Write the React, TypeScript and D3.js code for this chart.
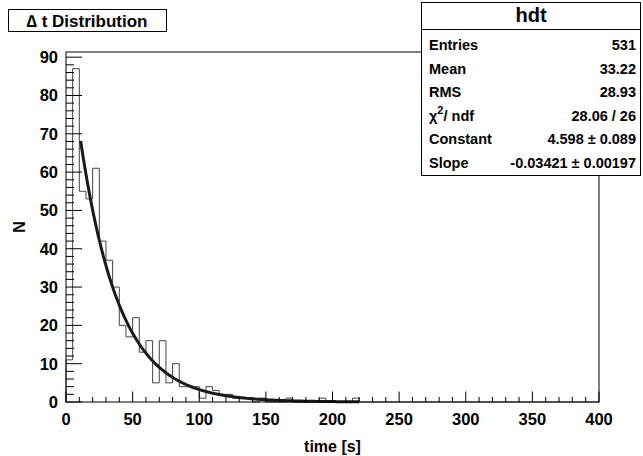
import React, { useEffect, useRef } from "react";
import * as d3 from "d3";

// bin contents, 5 s wide bins starting at 0
const binWidth = 5;
const counts = [
  11, 87, 55, 53, 61, 42, 37, 30, 20, 17, 22, 13, 16, 5, 16, 5, 10, 4, 4, 4,
  1, 4, 3, 2, 2, 1, 1, 1, 0, 1, 0, 0, 0, 1, 0, 0, 0, 0, 1, 0,
  0, 0, 0, 1,
];
const xTicks = [0, 50, 100, 150, 200, 250, 300, 350, 400];
const yTicks = [0, 10, 20, 30, 40, 50, 60, 70, 80, 90];

// fit parameters (expo): exp(constant + slope*x)
const fitConstant = 4.598;
const fitSlope = -0.03421;
const fitRange = [11, 220];

const statLabels = ["Entries", "Mean", "RMS", "chi", "Constant", "Slope"];
const statValues = ["531", "33.22", "28.93", "28.06 / 26", "4.598 \u00b1 0.089", "-0.03421 \u00b1 0.00197"];

const W = 643;
const H = 456;
const FONT = "'Liberation Sans', Arial, Helvetica, sans-serif";

export default function App() {
  const svgRef = useRef<SVGSVGElement | null>(null);

  useEffect(() => {
    if (!svgRef.current) return;
    const svg = d3.select(svgRef.current);
    svg.selectAll("*").remove();

    const left = 66, right = 599, top = 52, bottom = 402;
    const x = d3.scaleLinear().domain([0, 400]).range([left, right]);
    const y = d3.scaleLinear().domain([0, 87 * 1.05]).range([bottom, top]);

    svg.append("rect").attr("width", W).attr("height", H).attr("fill", "#fff");

    // histogram outline
    const pts: [number, number][] = [[x(0), y(0)]];
    const nb = 400 / binWidth;
    for (let i = 0; i < nb; i++) {
      const c = counts[i] ?? 0;
      pts.push([x(i * binWidth), y(c)]);
      pts.push([x((i + 1) * binWidth), y(c)]);
    }
    pts.push([x(400), y(0)]);
    svg.append("path")
      .attr("d", d3.line()(pts) || "")
      .attr("fill", "none")
      .attr("stroke", "#444")
      .attr("stroke-width", 1);

    // fit curve
    const fx = d3.range(fitRange[0], fitRange[1] + 0.5, 1);
    svg.append("path")
      .attr("d", d3.line<number>()
        .x(d => x(d))
        .y(d => y(Math.exp(fitConstant + fitSlope * d)))
        .curve(d3.curveMonotoneX)(fx) || "")
      .attr("fill", "none")
      .attr("stroke", "#1a1a1a")
      .attr("stroke-width", 3);

    // frame
    svg.append("rect")
      .attr("x", left).attr("y", top)
      .attr("width", right - left).attr("height", bottom - top)
      .attr("fill", "none").attr("stroke", "#000").attr("stroke-width", 1);

    // ticks
    const g = svg.append("g").attr("stroke", "#000").attr("stroke-width", 1);
    for (let v = 0; v <= 400; v += 10) {
      const len = v % 50 === 0 ? 10.5 : 5;
      g.append("line").attr("x1", x(v)).attr("x2", x(v))
        .attr("y1", bottom).attr("y2", bottom - len);
    }
    for (let v = 0; v <= 90; v += 2) {
      const len = v % 10 === 0 ? 16 : 8;
      g.append("line").attr("x1", left).attr("x2", left + len)
        .attr("y1", y(v)).attr("y2", y(v));
    }

    // title box and stats box (drawn before the texts)
    const sx = 421.5, sy = 2.5, sw = 219, sh = 173;
    const boxes = svg.append("g").attr("fill", "#fff").attr("stroke", "#000");
    boxes.append("rect").attr("x", 8.5).attr("y", 9.5).attr("width", 158).attr("height", 22);
    boxes.append("rect").attr("x", sx).attr("y", sy).attr("width", sw).attr("height", sh);
    boxes.append("line").attr("x1", sx).attr("x2", sx + sw).attr("y1", 29.5).attr("y2", 29.5);

    const txt = svg.append("g")
      .attr("font-family", FONT).attr("font-weight", "bold").attr("fill", "#000");

    txt.selectAll(".xl").data(xTicks).enter().append("text")
      .attr("x", d => x(d)).attr("y", 419)
      .attr("text-anchor", "middle").attr("dominant-baseline", "central")
      .attr("font-size", 16.5).text(d => d);

    txt.selectAll(".yl").data(yTicks).enter().append("text")
      .attr("x", 58).attr("y", d => y(d))
      .attr("text-anchor", "end").attr("dominant-baseline", "central")
      .attr("font-size", 16.5).text(d => d);

    txt.append("text").attr("x", (left + right) / 2).attr("y", 446)
      .attr("text-anchor", "middle").attr("dominant-baseline", "central")
      .attr("font-size", 16).text("time [s]");

    txt.append("text")
      .attr("transform", `translate(19, ${(top + bottom) / 2}) rotate(-90)`)
      .attr("text-anchor", "middle").attr("dominant-baseline", "central")
      .attr("font-size", 16).text("N");

    txt.append("text").attr("x", 87).attr("y", 21)
      .attr("text-anchor", "middle").attr("dominant-baseline", "central")
      .attr("font-size", 17).text("\u2206 t Distribution");

    txt.append("text").attr("x", sx + sw / 2).attr("y", 15)
      .attr("text-anchor", "middle").attr("dominant-baseline", "central")
      .attr("font-size", 20).text("hdt");

    const rowY = d3.scaleLinear().domain([0, 5]).range([45, 163]);
    statLabels.forEach((lab, i) => {
      const t = txt.append("text").attr("x", 429).attr("y", rowY(i))
        .attr("dominant-baseline", "central").attr("font-size", 14.5);
      if (lab === "chi") {
        t.append("tspan").text("\u03c7");
        t.append("tspan").attr("font-size", 11).attr("dy", -6).text("2");
        t.append("tspan").attr("dy", 6).text("/ ndf");
      } else {
        t.text(lab);
      }
      txt.append("text").attr("x", 636).attr("y", rowY(i))
        .attr("text-anchor", "end").attr("dominant-baseline", "central")
        .attr("font-size", 14.5).text(statValues[i]);
    });
  }, []);

  return (
    <svg ref={svgRef} width={W} height={H}
      style={{ position: "absolute", left: 0, top: 0, display: "block" }} />
  );
}
